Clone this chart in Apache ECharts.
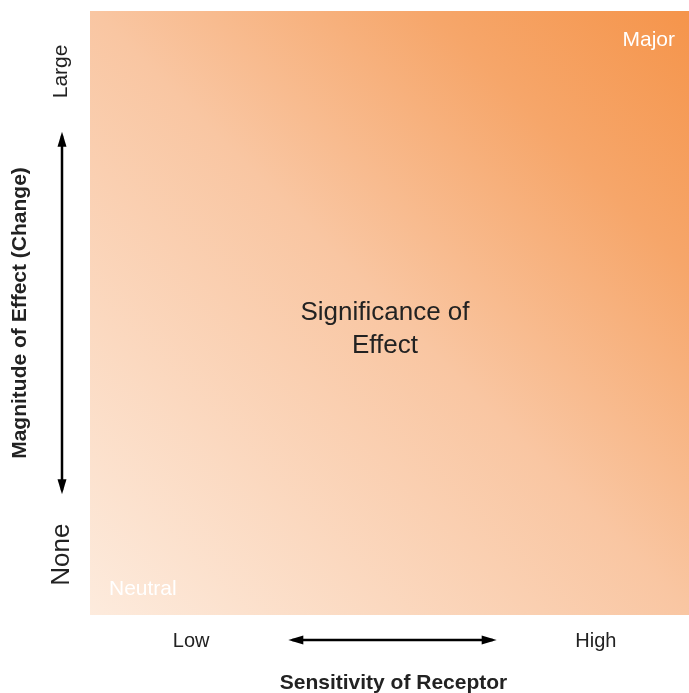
<!DOCTYPE html>
<html>
<head>
<meta charset="utf-8">
<script src="https://cdn.jsdelivr.net/npm/echarts@6/dist/echarts.min.js"></script>
<style>
html,body{margin:0;padding:0;background:#fff;}
#main{width:689px;height:693px;}
</style>
</head>
<body>
<div id="main"></div>
<script>
// ---- data ----
var xLabels = ['Low', '', 'High'];
var yLabels = ['None', '', '', '', 'Large'];
var xTitle = 'Sensitivity of Receptor';
var yTitle = 'Magnitude of Effect (Change)';
var fieldValue = [1];
var cornerTop = 'Major';
var cornerBottom = 'Neutral';
var centerText = 'Significance of\nEffect';
var gradientStops = [
  [0, '#FDEBDD'],
  [0.5, '#F9C6A2'],
  [0.78, '#F6A66A'],
  [1, '#F5944A']
];

var FONT = '"Liberation Sans", Arial, sans-serif';
var chart = echarts.init(document.getElementById('main'));

chart.setOption({
  animation: false,
  backgroundColor: '#fff',
  grid: { left: 90, top: 11, right: -8, bottom: 78, containLabel: false, outerBoundsMode: 'none' },
  xAxis: [
    {
      type: 'category', data: xLabels, position: 'bottom',
      axisLine: { show: false }, axisTick: { show: false }, splitLine: { show: false },
      axisLabel: { fontSize: 20, color: '#222', margin: 16, fontFamily: FONT },
      name: xTitle, nameLocation: 'middle', nameGap: 58,
      nameTextStyle: { fontSize: 21, fontWeight: 'bold', color: '#222', fontFamily: FONT }
    },
    { type: 'category', data: [''], show: false }
  ],
  yAxis: [
    {
      type: 'category', data: yLabels,
      axisLine: { show: false }, axisTick: { show: false }, splitLine: { show: false },
      axisLabel: {
        fontSize: 21, color: '#222', margin: 18, rotate: 90, fontFamily: FONT,
        formatter: function (v) { return v === 'None' ? '{big|' + v + '}' : v; },
        rich: { big: { fontSize: 26, lineHeight: 20, color: '#222', fontFamily: FONT } }
      },
      name: yTitle, nameLocation: 'middle', nameGap: 59, nameRotate: 90,
      nameTextStyle: { fontSize: 21, fontWeight: 'bold', color: '#222', fontFamily: FONT }
    },
    { type: 'value', min: 0, max: 1, show: false }
  ],
  series: [{
    type: 'bar', xAxisIndex: 1, yAxisIndex: 1, data: fieldValue,
    barWidth: '100%', silent: true,
    itemStyle: {
      color: new echarts.graphic.LinearGradient(0, 1, 1, 0,
        gradientStops.map(function (s) { return { offset: s[0], color: s[1] }; }))
    }
  }]
});

// annotations placed from the axis scales
var xc0 = chart.convertToPixel({ xAxisIndex: 0 }, 0);
var xc1 = chart.convertToPixel({ xAxisIndex: 0 }, 1);
var xc2 = chart.convertToPixel({ xAxisIndex: 0 }, 2);
var yc0 = chart.convertToPixel({ yAxisIndex: 0 }, 0);
var yc1 = chart.convertToPixel({ yAxisIndex: 0 }, 1);
var yc3 = chart.convertToPixel({ yAxisIndex: 0 }, 3);
var yc4 = chart.convertToPixel({ yAxisIndex: 0 }, 4);
var ax0 = (xc0 + xc1) / 2 - 4, ax1 = (xc1 + xc2) / 2 + 2;
var ay0 = (yc0 + yc1) / 2, ay1 = (yc3 + yc4) / 2;
var gridTop = chart.convertToPixel({ yAxisIndex: 1 }, 1);
var gridBot = chart.convertToPixel({ yAxisIndex: 1 }, 0);
var gridLeft = xc0 - (xc1 - xc0) / 2;
var arrowY = gridBot + 25;
var arrowX = gridLeft - 28;
var HL = 15, HW = 4.5, LW = 2.5;

chart.setOption({
  graphic: [
    { type: 'line', z: 100, shape: { x1: ax0 + 4, y1: arrowY, x2: ax1 - 4, y2: arrowY }, style: { stroke: '#000', lineWidth: LW } },
    { type: 'polygon', z: 100, shape: { points: [[ax0, arrowY], [ax0 + HL, arrowY - HW], [ax0 + HL, arrowY + HW]] }, style: { fill: '#000' } },
    { type: 'polygon', z: 100, shape: { points: [[ax1, arrowY], [ax1 - HL, arrowY - HW], [ax1 - HL, arrowY + HW]] }, style: { fill: '#000' } },
    { type: 'line', z: 100, shape: { x1: arrowX, y1: ay1 + 4, x2: arrowX, y2: ay0 - 4 }, style: { stroke: '#000', lineWidth: LW } },
    { type: 'polygon', z: 100, shape: { points: [[arrowX, ay1], [arrowX - HW, ay1 + HL], [arrowX + HW, ay1 + HL]] }, style: { fill: '#000' } },
    { type: 'polygon', z: 100, shape: { points: [[arrowX, ay0], [arrowX - HW, ay0 - HL], [arrowX + HW, ay0 - HL]] }, style: { fill: '#000' } },
    { type: 'text', z: 100, x: 675, y: gridTop + 29, style: { text: cornerTop, fill: '#fff', fontSize: 21, fontFamily: FONT, align: 'right', verticalAlign: 'middle' } },
    { type: 'text', z: 100, x: gridLeft + 19, y: gridBot - 26, style: { text: cornerBottom, fill: '#fff', fontSize: 21, fontFamily: FONT, align: 'left', verticalAlign: 'middle' } },
    { type: 'text', z: 100, x: 385, y: (gridTop + gridBot) / 2 + 16, style: { text: centerText, fill: '#222', fontSize: 26, fontFamily: FONT, align: 'center', verticalAlign: 'middle', lineHeight: 33 } }
  ]
});
</script>
</body>
</html>
